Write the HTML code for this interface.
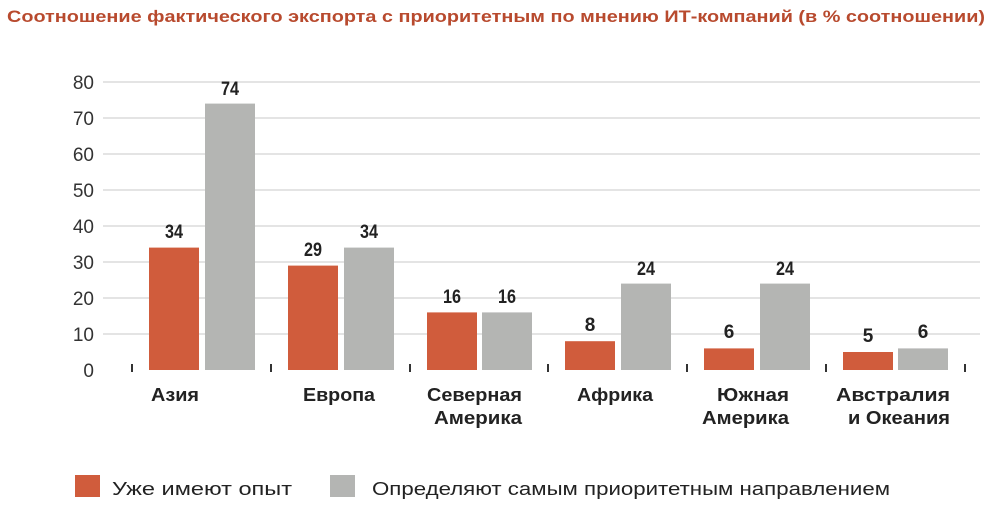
<!DOCTYPE html>
<html><head><meta charset="utf-8"><style>
body{margin:0;background:#fff;}
svg{display:block;font-family:"Liberation Sans","DejaVu Sans",sans-serif;}
</style></head><body>
<svg width="1000" height="510" viewBox="0 0 1000 510">
<text x="7" y="22" font-size="16.5" font-weight="bold" fill="#b84a2e" textLength="978" lengthAdjust="spacingAndGlyphs">Соотношение фактического экспорта с приоритетным по мнению ИТ-компаний (в % соотношении)</text>
<g stroke="#c8c8c8" stroke-width="1">
<line x1="103" x2="980" y1="334" y2="334"/><line x1="103" x2="980" y1="298" y2="298"/>
<line x1="103" x2="980" y1="262" y2="262"/><line x1="103" x2="980" y1="226" y2="226"/>
<line x1="103" x2="980" y1="190" y2="190"/><line x1="103" x2="980" y1="154" y2="154"/>
<line x1="103" x2="980" y1="118" y2="118"/><line x1="103" x2="980" y1="82" y2="82"/>
</g>
<g font-size="19" fill="#333" text-anchor="end">
<text x="94" y="377">0</text><text x="94" y="341">10</text><text x="94" y="305">20</text>
<text x="94" y="269">30</text><text x="94" y="233">40</text><text x="94" y="197">50</text>
<text x="94" y="161">60</text><text x="94" y="125">70</text><text x="94" y="89">80</text>
</g>
<g stroke="#333" stroke-width="2">
<line x1="132" x2="132" y1="364" y2="372"/><line x1="271" x2="271" y1="364" y2="372"/>
<line x1="410" x2="410" y1="364" y2="372"/><line x1="548" x2="548" y1="364" y2="372"/>
<line x1="687" x2="687" y1="364" y2="372"/><line x1="826" x2="826" y1="364" y2="372"/>
<line x1="965" x2="965" y1="364" y2="372"/>
</g>
<g fill="#d05c3c">
<rect x="149" y="247.6" width="50" height="122.4"/>
<rect x="288" y="265.6" width="50" height="104.4"/>
<rect x="427" y="312.4" width="50" height="57.6"/>
<rect x="565" y="341.2" width="50" height="28.8"/>
<rect x="704" y="348.4" width="50" height="21.6"/>
<rect x="843" y="352" width="50" height="18"/>
</g>
<g fill="#b4b5b3">
<rect x="205" y="103.6" width="50" height="266.4"/>
<rect x="344" y="247.6" width="50" height="122.4"/>
<rect x="482" y="312.4" width="50" height="57.6"/>
<rect x="621" y="283.6" width="50" height="86.4"/>
<rect x="760" y="283.6" width="50" height="86.4"/>
<rect x="898" y="348.4" width="50" height="21.6"/>
</g>
<g font-size="19" font-weight="bold" fill="#222" text-anchor="middle">
<text x="174" y="238" textLength="18" lengthAdjust="spacingAndGlyphs">34</text><text x="230" y="95" textLength="18" lengthAdjust="spacingAndGlyphs">74</text>
<text x="313" y="256" textLength="18" lengthAdjust="spacingAndGlyphs">29</text><text x="369" y="238" textLength="18" lengthAdjust="spacingAndGlyphs">34</text>
<text x="452" y="303" textLength="18" lengthAdjust="spacingAndGlyphs">16</text><text x="507" y="303" textLength="18" lengthAdjust="spacingAndGlyphs">16</text>
<text x="590" y="331">8</text><text x="646" y="275" textLength="18" lengthAdjust="spacingAndGlyphs">24</text>
<text x="729" y="338">6</text><text x="785" y="275" textLength="18" lengthAdjust="spacingAndGlyphs">24</text>
<text x="868" y="342">5</text><text x="923" y="338">6</text>
</g>
<g font-size="18" font-weight="bold" fill="#222" text-anchor="end" lengthAdjust="spacingAndGlyphs">
<text x="199" y="401" textLength="48" lengthAdjust="spacingAndGlyphs">Азия</text>
<text x="375" y="401" textLength="72" lengthAdjust="spacingAndGlyphs">Европа</text>
<text x="522" y="401" textLength="95" lengthAdjust="spacingAndGlyphs">Северная</text><text x="522" y="424" textLength="88" lengthAdjust="spacingAndGlyphs">Америка</text>
<text x="653" y="401" textLength="76" lengthAdjust="spacingAndGlyphs">Африка</text>
<text x="789" y="401" textLength="72" lengthAdjust="spacingAndGlyphs">Южная</text><text x="789" y="424" textLength="87" lengthAdjust="spacingAndGlyphs">Америка</text>
<text x="950" y="401" textLength="114" lengthAdjust="spacingAndGlyphs">Австралия</text><text x="950" y="424" textLength="102" lengthAdjust="spacingAndGlyphs">и Океания</text>
</g>
<rect x="75" y="475" width="25" height="22" fill="#d05c3c"/>
<text x="112" y="495" font-size="18" fill="#222" textLength="180" lengthAdjust="spacingAndGlyphs">Уже имеют опыт</text>
<rect x="330" y="475" width="25" height="22" fill="#b4b5b3"/>
<text x="372" y="495" font-size="18" fill="#222" textLength="518" lengthAdjust="spacingAndGlyphs">Определяют самым приоритетным направлением</text>
</svg>
</body></html>
